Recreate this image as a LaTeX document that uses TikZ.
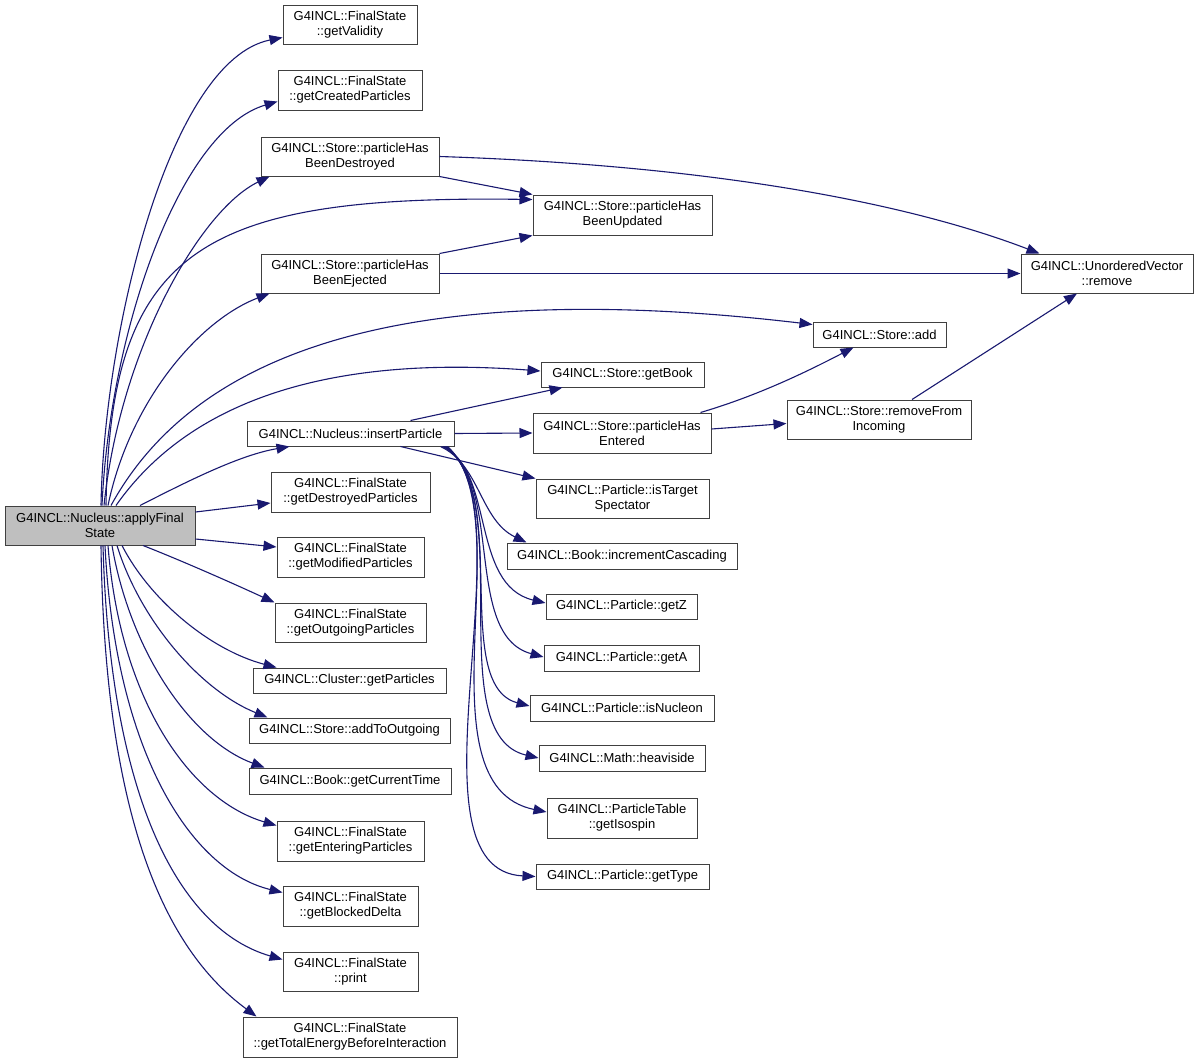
\documentclass[tikz,border=0pt]{standalone}
\usepackage{fontspec}
\setmainfont{Liberation Sans}
\usetikzlibrary{arrows.meta}
\definecolor{edgec}{HTML}{191970}
\definecolor{borderc}{HTML}{404040}
\definecolor{rootc}{HTML}{BFBFBF}
\newcommand\mybox[7][]{\node[box,#1,minimum width={(#4-#2)*1pt},minimum height={(#5-#3)*1pt}] (#6) at ({(#2+#4)/2},{(#3+#5)/2}) {#7};}
\begin{document}
\begin{tikzpicture}[x=1pt,y=-1pt,
  box/.style={draw=borderc,fill=white,line width=1pt,inner sep=0pt,align=center,font=\fontsize{13}{15}\selectfont},
  root/.style={fill=rootc},
  edge/.style={draw=edgec,line width=1.1pt,-{Triangle[length=13pt,width=10pt]}}]
\useasboundingbox (0,0) rectangle (1200,1063);
\fill[white] (0,0) rectangle (1200,1063);
% nodes: x1 y1 x2 y2 name text
\mybox[root]{5}{506}{195}{545}{apply}{G4INCL::Nucleus::applyFinal\\State}
\mybox{283}{5}{417}{44}{getValidity}{G4INCL::FinalState\\::getValidity}
\mybox{278}{70}{422}{110}{getCreated}{G4INCL::FinalState\\::getCreatedParticles}
\mybox{261}{137}{439}{176}{destroyed}{G4INCL::Store::particleHas\\BeenDestroyed}
\mybox{533}{195}{712}{235}{updated}{G4INCL::Store::particleHas\\BeenUpdated}
\mybox{261}{254}{439}{293}{ejected}{G4INCL::Store::particleHas\\BeenEjected}
\mybox{1021}{254}{1193}{293}{remove}{G4INCL::UnorderedVector\\::remove}
\mybox{813}{322}{946}{347}{add}{G4INCL::Store::add}
\mybox{541}{362}{704}{387}{getBook}{G4INCL::Store::getBook}
\mybox{247}{421}{454}{446}{insert}{G4INCL::Nucleus::insertParticle}
\mybox{533}{413}{711}{453}{entered}{G4INCL::Store::particleHas\\Entered}
\mybox{787}{400}{971}{439}{removeFrom}{G4INCL::Store::removeFrom\\Incoming}
\mybox{536}{479}{709}{518}{isTarget}{G4INCL::Particle::isTarget\\Spectator}
\mybox{271}{472}{430}{512}{destroyedP}{G4INCL::FinalState\\::getDestroyedParticles}
\mybox{507}{543}{737}{569}{incCasc}{G4INCL::Book::incrementCascading}
\mybox{277}{537}{424}{577}{modified}{G4INCL::FinalState\\::getModifiedParticles}
\mybox{546}{594}{697}{619}{getZ}{G4INCL::Particle::getZ}
\mybox{275}{603}{426}{642}{outgoing}{G4INCL::FinalState\\::getOutgoingParticles}
\mybox{544}{645}{699}{671}{getA}{G4INCL::Particle::getA}
\mybox{253}{668}{446}{693}{cluster}{G4INCL::Cluster::getParticles}
\mybox{530}{695}{714}{721}{isNucleon}{G4INCL::Particle::isNucleon}
\mybox{249}{718}{450}{743}{addToOut}{G4INCL::Store::addToOutgoing}
\mybox{539}{745}{705}{771}{heaviside}{G4INCL::Math::heaviside}
\mybox{249}{768}{451}{794}{curTime}{G4INCL::Book::getCurrentTime}
\mybox{547}{798}{697}{838}{isospin}{G4INCL::ParticleTable\\::getIsospin}
\mybox{277}{821}{424}{861}{entering}{G4INCL::FinalState\\::getEnteringParticles}
\mybox{536}{864}{709}{889}{getType}{G4INCL::Particle::getType}
\mybox{283}{886}{418}{926}{blocked}{G4INCL::FinalState\\::getBlockedDelta}
\mybox{283}{952}{418}{991}{print}{G4INCL::FinalState\\::print}
\mybox{243}{1017}{457}{1057}{totalE}{G4INCL::FinalState\\::getTotalEnergyBeforeInteraction}
% edges from apply (top)
\draw[edge] ([xshift=1pt]apply.north) .. controls (104,330) and (170,60) .. ([yshift=7pt]getValidity.south west);
\draw[edge] ([xshift=2pt]apply.north) .. controls (110,330) and (180,130) .. ([yshift=9pt]getCreated.south west);
\draw[edge] ([xshift=4pt]apply.north) .. controls (120,350) and (200,210) .. ([xshift=9pt]destroyed.south west);
\draw[edge] ([xshift=6pt]apply.north) .. controls (110,250) and (200,195) .. ([yshift=-5pt]updated.north west);
\draw[edge] ([xshift=8pt]apply.north) .. controls (130,400) and (200,320) .. ([xshift=9pt]ejected.south west);
\draw[edge] ([xshift=11pt]apply.north) .. controls (180,380) and (350,270) .. ([yshift=-3pt]add.north west);
\draw[edge] ([xshift=16pt]apply.north) .. controls (190,400) and (330,355) .. ([yshift=3.5pt]getBook.west);
\draw[edge] ([xshift=40pt]apply.north) .. controls (190,480) and (240,455) .. ([xshift=43pt]insert.south west);
% edges from apply (right)
\draw[edge] ([yshift=13.5pt]apply.east) -- ([yshift=-11pt]destroyedP.west);
\draw[edge] ([yshift=-13.5pt]apply.east) -- ([yshift=10pt]modified.west);
\draw[edge] ([xshift=43pt]apply.south) .. controls (180,560) and (230,582) .. (outgoing.north west);
% edges from apply (bottom)
\draw[edge] ([xshift=22pt]apply.south) .. controls (150,600) and (210,650) .. ([xshift=24pt]cluster.north west);
\draw[edge] ([xshift=17pt]apply.south) .. controls (140,620) and (200,690) .. ([xshift=19pt]addToOut.north west);
\draw[edge] ([xshift=12pt]apply.south) .. controls (130,650) and (190,740) .. ([xshift=16pt]curTime.north west);
\draw[edge] ([xshift=8pt]apply.south) .. controls (120,700) and (190,800) .. ([yshift=-5pt]entering.north west);
\draw[edge] ([xshift=5pt]apply.south) .. controls (115,750) and (190,870) .. ([yshift=-7pt]blocked.north west);
\draw[edge] ([xshift=3pt]apply.south) .. controls (110,800) and (180,930) .. ([yshift=-8pt]print.north west);
\draw[edge] ([xshift=1pt]apply.south) .. controls (105,850) and (180,960) .. ([xshift=14pt]totalE.north west);
% store edges
\draw[edge] (destroyed.south east) -- (updated.north west);
\draw[edge] (ejected.north east) -- (updated.south west);
\draw[edge] (destroyed.east) .. controls (700,165) and (900,200) .. ([xshift=19pt]remove.north west);
\draw[edge] (ejected.east) -- (remove.west);
\draw[edge] ([xshift=33pt]removeFrom.north) -- ([xshift=-30pt]remove.south);
\draw[edge] ([xshift=-11pt]entered.north east) .. controls (760,395) and (810,370) .. ([xshift=-26pt]add.south);
\draw[edge] ([yshift=4pt]entered.east) -- ([yshift=-4pt]removeFrom.west);
% insertParticle edges
\draw[edge] ([xshift=60pt]insert.north) -- ([xshift=22pt]getBook.south west);
\draw[edge] (insert.east) -- (entered.west);
\draw[edge] ([xshift=50pt]insert.south) -- (isTarget.north west);
\draw[edge] ([xshift=-14pt]insert.south east) .. controls (480,465) and (480,520) .. ([xshift=20pt]incCasc.north west);
\draw[edge] ([xshift=-12pt]insert.south east) .. controls (495,470) and (470,585) .. ([yshift=3.5pt]getZ.west);
\draw[edge] ([xshift=-11pt]insert.south east) .. controls (505,480) and (462,635) .. ([yshift=1pt]getA.west);
\draw[edge] ([xshift=-10pt]insert.south east) .. controls (512,490) and (450,685) .. ([yshift=2pt]isNucleon.west);
\draw[edge] ([xshift=-9pt]insert.south east) .. controls (518,500) and (440,735) .. (heaviside.west);
\draw[edge] ([xshift=-8pt]insert.south east) .. controls (524,510) and (415,785) .. ([yshift=6pt]isospin.west);
\draw[edge] ([xshift=-7pt]insert.south east) .. controls (530,520) and (400,870) .. (getType.west);
\end{tikzpicture}
\end{document}
